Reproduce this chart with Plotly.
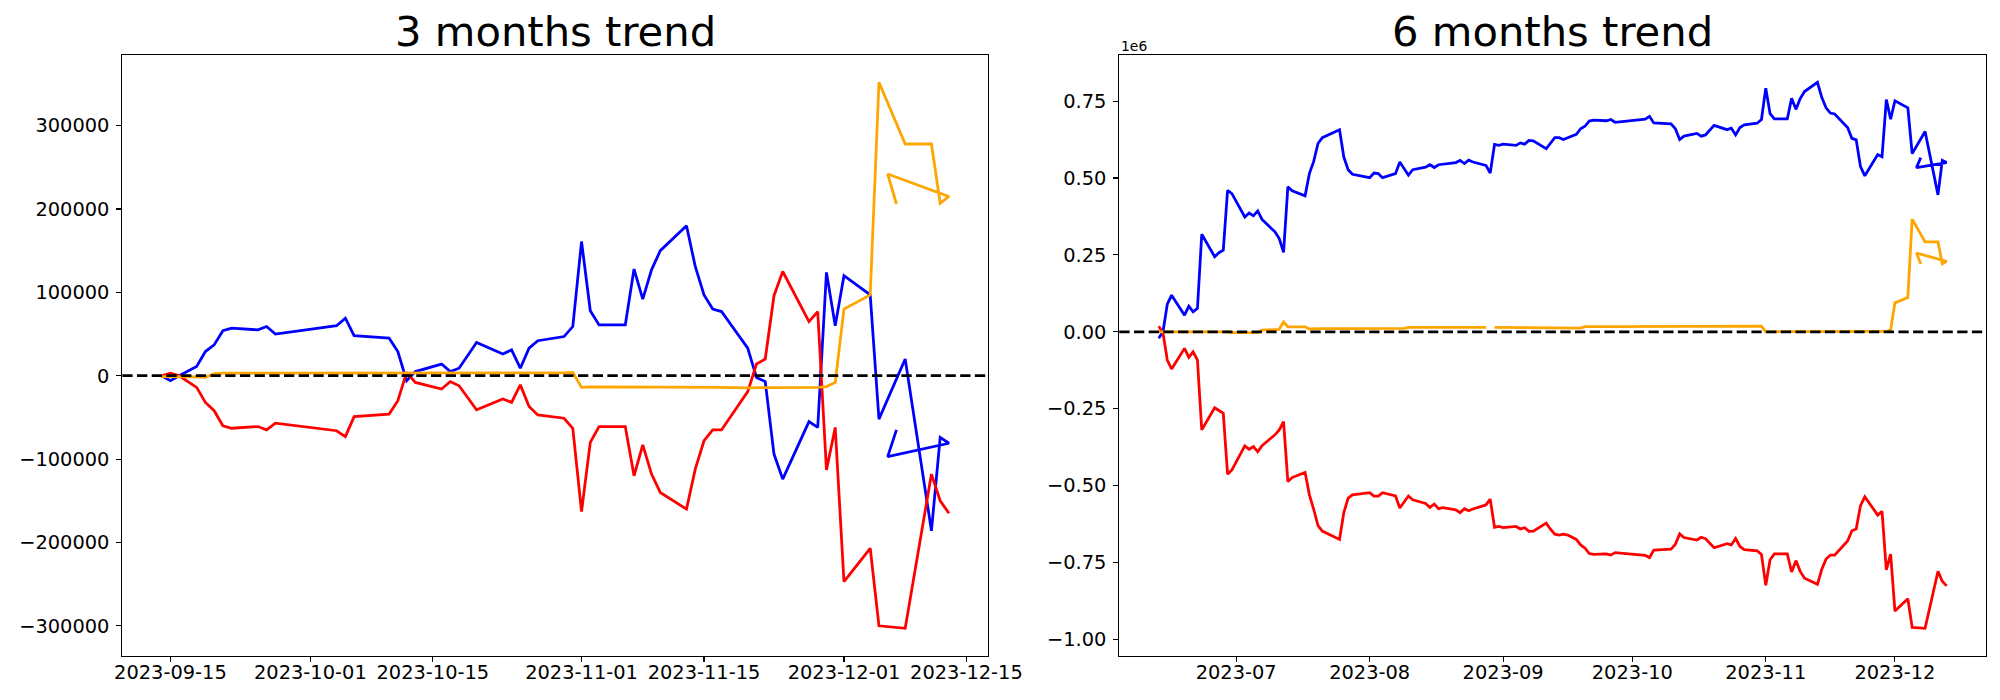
import numpy as np
import pandas as pd
import plotly.graph_objects as go

# ---------------- 3 months trend (left) ----------------
L_DATES = ["2023-09-14", "2023-09-15", "2023-09-16", "2023-09-18", "2023-09-19", "2023-09-20",
           "2023-09-21", "2023-09-22", "2023-09-25", "2023-09-26", "2023-09-27", "2023-10-04",
           "2023-10-05", "2023-10-06", "2023-10-10", "2023-10-11", "2023-10-12", "2023-10-13",
           "2023-10-16", "2023-10-17", "2023-10-18", "2023-10-20", "2023-10-23", "2023-10-24",
           "2023-10-25", "2023-10-26", "2023-10-27", "2023-10-30", "2023-10-31", "2023-11-01",
           "2023-11-02", "2023-11-03", "2023-11-06", "2023-11-07", "2023-11-08", "2023-11-09",
           "2023-11-10", "2023-11-13", "2023-11-14", "2023-11-15", "2023-11-16", "2023-11-17",
           "2023-11-20", "2023-11-21", "2023-11-22", "2023-11-23", "2023-11-24", "2023-11-27",
           "2023-11-28", "2023-11-29", "2023-11-30", "2023-12-01", "2023-12-04", "2023-12-05",
           "2023-12-08", "2023-12-11", "2023-12-12", "2023-12-13", "2023-12-06", "2023-12-07"]

L_BLUE = [0, -6000, 0, 11000, 29000, 37000, 54000, 57000, 55000, 59000,
          50000, 60000, 69000, 48000, 45000, 29000, -6000, 5000, 14000, 5000,
          9000, 40000, 26000, 31000, 9000, 33000, 42000, 47000, 59000, 161000,
          78000, 61000, 61000, 128000, 92000, 127000, 150000, 180000, 131000, 97000,
          80000, 77000, 33000, -2000, -7000, -94000, -124000, -55000, -62000, 124000,
          60000, 120000, 97000, -52000, 20000, -186000, -74000, -81000, -97000, -65000]

L_RED = [0, 3000, 0, -14000, -32000, -42000, -60000, -63000, -61000, -65000,
         -57000, -66000, -73000, -49000, -46000, -30000, 4000, -8000, -16000, -7000,
         -12000, -41000, -28000, -32000, -11000, -37000, -47000, -51000, -63000, -163000,
         -80000, -61000, -61000, -120000, -83000, -118000, -140000, -160000, -112000, -78000,
         -65000, -65000, -19000, 14000, 20000, 96000, 125000, 65000, 77000, -113000,
         -62000, -247000, -207000, -300000, -303000, -118000, -150000, -165000, None, None]

L_ORANGE = [-1000, -1000, -1000, -1500, -2000, 2500, 3000, 3000, 3000, 3000,
            3000, 3000, 3000, 3000, 3000, 3000, 3000, 3000, 3000, 3000,
            3000, 3000, 3000, 3000, 3000, 3500, 3500, 3500, 4000, -14000,
            -13500, -13500, -13500, -13500, -13500, -14000, -14000, -14000, -14000, -14000,
            -14000, -14000, -14500, -14500, -14500, -14500, -14500, -14500, -14000, -13000,
            -8000, 80000, 97000, 352000, 278000, 278000, 207000, 215000, 242000, 206000]

L_XTICKS = ["2023-09-15", "2023-10-01", "2023-10-15", "2023-11-01",
            "2023-11-15", "2023-12-01", "2023-12-15"]
L_YTICKS = [-300000, -200000, -100000, 0, 100000, 200000, 300000]

# ---------------- 6 months trend (right), values in millions ----------------
R_DATES = ["2023-06-13", "2023-06-14", "2023-06-15", "2023-06-16", "2023-06-19", "2023-06-20",
           "2023-06-21", "2023-06-22", "2023-06-23", "2023-06-26", "2023-06-27", "2023-06-28",
           "2023-06-29", "2023-06-30", "2023-07-03", "2023-07-04", "2023-07-05", "2023-07-06",
           "2023-07-07", "2023-07-10", "2023-07-11", "2023-07-12", "2023-07-13", "2023-07-14",
           "2023-07-17", "2023-07-18", "2023-07-19", "2023-07-20", "2023-07-21", "2023-07-24",
           "2023-07-25", "2023-07-26", "2023-07-27", "2023-07-28", "2023-07-31", "2023-08-01",
           "2023-08-02", "2023-08-03", "2023-08-04", "2023-08-07", "2023-08-08", "2023-08-09",
           "2023-08-10", "2023-08-11", "2023-08-14", "2023-08-15", "2023-08-16", "2023-08-17",
           "2023-08-18", "2023-08-21", "2023-08-22", "2023-08-23", "2023-08-24", "2023-08-25",
           "2023-08-28", "2023-08-29", "2023-08-30", "2023-08-31", "2023-09-01", "2023-09-04",
           "2023-09-05", "2023-09-06", "2023-09-07", "2023-09-08", "2023-09-11", "2023-09-12",
           "2023-09-13"] + L_DATES

R_BLUE_M = [-0.021, 0.000, 0.090, 0.119, 0.054, 0.083, 0.065, 0.076, 0.317, 0.244,
            0.257, 0.265, 0.460, 0.449, 0.373, 0.386, 0.377, 0.393, 0.365, 0.325,
            0.303, 0.258, 0.471, 0.458, 0.442, 0.514, 0.554, 0.612, 0.631, 0.652,
            0.657, 0.568, 0.527, 0.512, 0.505, 0.501, 0.516, 0.514, 0.501, 0.514,
            0.552, 0.530, 0.509, 0.527, 0.535, 0.543, 0.534, 0.543, 0.545, 0.550,
            0.557, 0.547, 0.558, 0.552, 0.541, 0.516, 0.609, 0.606, 0.610, 0.606,
            0.614, 0.610, 0.622, 0.621, 0.595, 0.615, 0.631,
            0.631, 0.625, 0.631, 0.642, 0.660, 0.668, 0.685, 0.688, 0.686, 0.690,
            0.681, 0.691, 0.700, 0.679, 0.676, 0.660, 0.625, 0.636, 0.645, 0.636,
            0.640, 0.671, 0.657, 0.662, 0.640, 0.664, 0.673, 0.678, 0.690, 0.792,
            0.709, 0.692, 0.692, 0.759, 0.723, 0.758, 0.781, 0.811, 0.762, 0.728,
            0.711, 0.708, 0.664, 0.629, 0.624, 0.537, 0.507, 0.576, 0.569, 0.755,
            0.691, 0.751, 0.728, 0.579, 0.651, 0.445, 0.557, 0.550, 0.534, 0.566]

R_RED_M = [0.018, -0.005, -0.092, -0.121, -0.054, -0.083, -0.065, -0.092, -0.319, -0.247,
           -0.256, -0.265, -0.463, -0.449, -0.371, -0.382, -0.373, -0.390, -0.370, -0.335,
           -0.319, -0.292, -0.487, -0.474, -0.457, -0.530, -0.577, -0.630, -0.648, -0.668,
           -0.675, -0.588, -0.541, -0.530, -0.526, -0.523, -0.534, -0.534, -0.523, -0.534,
           -0.573, -0.552, -0.534, -0.546, -0.558, -0.571, -0.560, -0.575, -0.572, -0.579,
           -0.588, -0.575, -0.582, -0.576, -0.563, -0.544, -0.636, -0.633, -0.637, -0.633,
           -0.641, -0.637, -0.649, -0.648, -0.622, -0.642, -0.658,
           -0.661, -0.658, -0.661, -0.675, -0.693, -0.703, -0.721, -0.724, -0.722, -0.726,
           -0.718, -0.727, -0.734, -0.710, -0.707, -0.691, -0.657, -0.669, -0.677, -0.668,
           -0.673, -0.702, -0.689, -0.693, -0.672, -0.698, -0.708, -0.712, -0.724, -0.824,
           -0.741, -0.722, -0.722, -0.781, -0.744, -0.779, -0.801, -0.821, -0.773, -0.739,
           -0.726, -0.726, -0.680, -0.647, -0.641, -0.565, -0.536, -0.596, -0.584, -0.774,
           -0.723, -0.908, -0.868, -0.961, -0.964, -0.779, -0.811, -0.826, None, None]

R_ORANGE_M = [0.000, 0.000, 0.000, 0.000, 0.000, 0.000, 0.000, 0.000, 0.000, 0.000,
              0.000, 0.000, 0.000, -0.003, -0.003, -0.003, -0.003, -0.003, 0.005, 0.008,
              0.008, 0.032, 0.016, 0.016, 0.016, 0.009, 0.010, 0.010, 0.010, 0.010,
              0.010, 0.010, 0.010, 0.010, 0.010, 0.010, 0.010, 0.010, 0.010, 0.010,
              0.010, 0.011, 0.014, 0.014, 0.014, 0.014, 0.014, 0.014, 0.014, 0.014,
              0.014, 0.014, 0.014, 0.014, 0.014, None, 0.014, 0.014, 0.014, 0.014,
              0.014, 0.014, 0.014, 0.014, 0.014, 0.014, 0.014,
              0.013, 0.013, 0.013, 0.0125, 0.012, 0.0165, 0.017, 0.017, 0.017, 0.017,
              0.017, 0.017, 0.017, 0.017, 0.017, 0.017, 0.017, 0.017, 0.017, 0.017,
              0.017, 0.017, 0.017, 0.017, 0.017, 0.0175, 0.0175, 0.0175, 0.018, 0.000,
              0.0005, 0.0005, 0.0005, 0.0005, 0.0005, 0.000, 0.000, 0.000, 0.000, 0.000,
              0.000, 0.000, -0.0005, -0.0005, -0.0005, -0.0005, -0.0005, -0.0005, 0.000, 0.001,
              0.006, 0.094, 0.111, 0.366, 0.292, 0.292, 0.221, 0.229, 0.256, 0.220]

R_XTICKS = ["2023-07-01", "2023-08-01", "2023-09-01", "2023-10-01", "2023-11-01", "2023-12-01"]
R_YTICKS_M = [-1.00, -0.75, -0.50, -0.25, 0.00, 0.25, 0.50, 0.75]

TITLES = ["3 months trend", "6 months trend"]
OFFSET_TEXT = "1e6"

# ---------------- styling / layout helpers ----------------
W, H = 2000, 700
FONT = "DejaVu Sans"
LW = 2.78
COLORS = {"blue": "#0000ff", "red": "#ff0000", "orange": "#ffa500"}
AX_TOP, AX_BOT = 55.0, 655.6
LEFT_X = (122.3, 988.3)
RIGHT_X = (1119.3, 1986.0)


def px_dom(a, b):
    return [a / W, b / W]


YDOM = [(H - AX_BOT) / H, (H - AX_TOP) / H]


def pad_range(vals):
    a = np.array([v for v in vals if v is not None], dtype=float)
    lo, hi = a.min(), a.max()
    m = 0.05 * (hi - lo)
    return [lo - m, hi + m]


def pad_dates(dates):
    d = pd.to_datetime(pd.Series(dates))
    lo, hi = d.min(), d.max()
    m = (hi - lo) * 0.05
    return [(lo - m).strftime("%Y-%m-%d %H:%M:%S"), (hi + m).strftime("%Y-%m-%d %H:%M:%S")]


def fmt_minus(s):
    return s.replace("-", "\u2212")


def scale(vals, k):
    return [None if v is None else v * k for v in vals]


fig = go.Figure()

left_series = [("blue", L_BLUE), ("red", L_RED), ("orange", L_ORANGE)]
for col, ys in left_series:
    fig.add_trace(go.Scatter(x=L_DATES, y=ys, mode="lines", xaxis="x", yaxis="y",
                             line=dict(color=COLORS[col], width=LW), showlegend=False,
                             connectgaps=False, hoverinfo="skip"))

right_series = [("blue", R_BLUE_M), ("red", R_RED_M), ("orange", R_ORANGE_M)]
for col, ys in right_series:
    fig.add_trace(go.Scatter(x=R_DATES, y=scale(ys, 1e6), mode="lines", xaxis="x2", yaxis="y2",
                             line=dict(color=COLORS[col], width=LW), showlegend=False,
                             connectgaps=False, hoverinfo="skip"))

tickfont = dict(family=FONT, size=19.4, color="black")
common_axis = dict(showline=True, mirror=True, linecolor="black", linewidth=1.11,
                   ticks="outside", ticklen=4.86, tickwidth=1.11, tickcolor="black",
                   showgrid=False, zeroline=False, tickfont=tickfont, automargin=False)

l_yall = L_BLUE + L_RED + L_ORANGE
r_yall = scale(R_BLUE_M + R_RED_M + R_ORANGE_M, 1e6)

X_STANDOFF = -6
Y_STANDOFF = 3

fig.update_layout(
    width=W, height=H, margin=dict(l=0, r=0, t=0, b=0, autoexpand=False),
    paper_bgcolor="white", plot_bgcolor="white",
    font=dict(family=FONT, color="black"),
    xaxis=dict(domain=px_dom(*LEFT_X), anchor="y", type="date", range=pad_dates(L_DATES),
               tickvals=L_XTICKS, ticktext=L_XTICKS, ticklabelstandoff=X_STANDOFF, **common_axis),
    yaxis=dict(domain=YDOM, anchor="x", range=pad_range(l_yall),
               tickvals=L_YTICKS, ticktext=[fmt_minus(str(v)) for v in L_YTICKS],
               ticklabelstandoff=Y_STANDOFF, **common_axis),
    xaxis2=dict(domain=px_dom(*RIGHT_X), anchor="y2", type="date", range=pad_dates(R_DATES),
                tickvals=R_XTICKS, ticktext=[t[:7] for t in R_XTICKS],
                ticklabelstandoff=X_STANDOFF, **common_axis),
    yaxis2=dict(domain=YDOM, anchor="x2", range=pad_range(r_yall),
                tickvals=[v * 1e6 for v in R_YTICKS_M],
                ticktext=[fmt_minus(f"{v:.2f}") for v in R_YTICKS_M],
                ticklabelstandoff=Y_STANDOFF, **common_axis),
)

# dashed zero lines spanning each axes
for xr, yr in [("x domain", "y"), ("x2 domain", "y2")]:
    fig.add_shape(type="line", xref=xr, x0=0, x1=1, yref=yr, y0=0, y1=0,
                  line=dict(color="black", width=LW, dash="10.3px,4.4px"), layer="above")

# titles
for title, (a, b) in zip(TITLES, [LEFT_X, RIGHT_X]):
    fig.add_annotation(text=title, x=(a + b) / 2 / W, y=1 - 32 / H, xref="paper", yref="paper",
                       xanchor="center", yanchor="middle", showarrow=False,
                       font=dict(family=FONT, size=41.7, color="black"))

# offset text of the right y axis
fig.add_annotation(text=OFFSET_TEXT, x=RIGHT_X[0] / W, y=1 - 46 / H, xref="paper", yref="paper",
                   xanchor="left", yanchor="middle", showarrow=False,
                   font=dict(family=FONT, size=13.9, color="black"))

fig.write_html("out.html",
               config={"displayModeBar": False, "staticPlot": True},
               post_script="document.body.style.margin='0px';document.body.style.overflow='hidden';")
